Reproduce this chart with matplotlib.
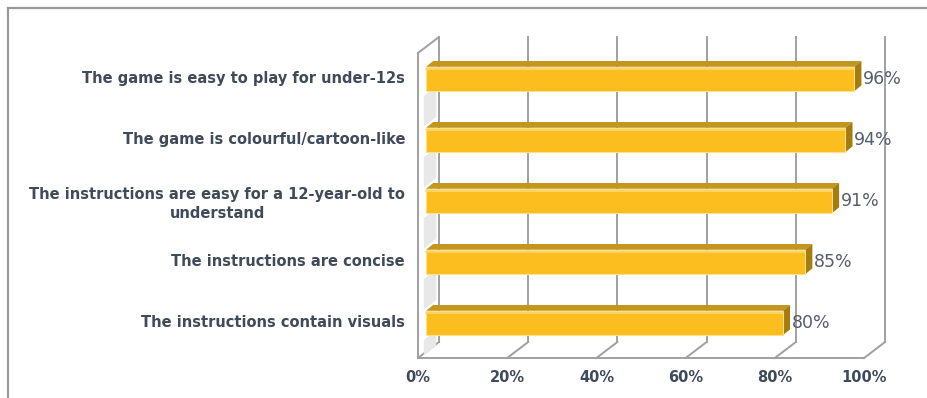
import matplotlib.pyplot as plt
from matplotlib.patches import Polygon
from matplotlib.lines import Line2D

categories = [
    "The game is easy to play for under-12s",
    "The game is colourful/cartoon-like",
    "The instructions are easy for a 12-year-old to\nunderstand",
    "The instructions are concise",
    "The instructions contain visuals",
]
values = [96, 94, 91, 85, 80]
ticks = [0, 20, 40, 60, 80, 100]

plt.rcParams['font.family'] = ['DejaVu Sans']

# pseudo-3d geometry (x in %, y in category units)
DX, DY = 4.7, -0.262          # depth of the whole box
BX, BDX, BDY = 1.8, 1.6, -0.095  # bar front offset and bar depth
HALF = 0.2
TOP, FLOOR = -0.426, 4.574

grid_c = '#a0a0a0'
txt_c = '#3f4a5a'

fig = plt.figure(figsize=(9.27, 3.98), dpi=100)
ax = fig.add_axes([0, 0, 1, 1])
ax.set_xlim(-93.7, 114.1)
ax.set_ylim(5.23, -1.295)
ax.axis('off')

# outer frame
fig.add_artist(Line2D([8/927, 8/927], [0, 1-8/398], transform=fig.transFigure, color='#9a9a9a', lw=1.6))
fig.add_artist(Line2D([8/927, 1], [1-8/398, 1-8/398], transform=fig.transFigure, color='#9a9a9a', lw=1.6))

# back wall gridlines and floor diagonals
for t in ticks:
    ax.plot([t + DX, t + DX], [TOP + DY, FLOOR + DY], color=grid_c, lw=1.4, zorder=1)
    ax.plot([t, t + DX], [FLOOR, FLOOR + DY], color=grid_c, lw=1.4, zorder=1)
ax.plot([0, 100], [FLOOR, FLOOR], color=grid_c, lw=1.4, zorder=1)

# left wall with faint shading between the bars
ax.plot([0, 0], [TOP, FLOOR], color=grid_c, lw=1.4, zorder=1)
ax.plot([0, DX], [TOP, TOP + DY], color=grid_c, lw=1.4, zorder=1)
for i in range(len(values)):
    ya, yb = i + HALF + 0.08, min(i + 0.78, FLOOR - 0.05)
    ax.add_patch(Polygon([(1.3, ya), (DX - 0.6, ya + DY * 0.6),
                          (DX - 0.6, yb + DY * 0.6), (1.3, yb)],
                         closed=True, facecolor='#e8e8e8', edgecolor='none', zorder=1))

# bars
for i, v in enumerate(values):
    x0, x1 = BX, BX + v
    y0, y1 = i - HALF, i + HALF
    top = [(x0, y0), (x1, y0), (x1 + BDX, y0 + BDY), (x0 + BDX, y0 + BDY)]
    side = [(x1, y0), (x1 + BDX, y0 + BDY), (x1 + BDX, y1 + BDY), (x1, y1)]
    ax.add_patch(Polygon(top, closed=True, facecolor='#c39620', edgecolor='none', zorder=3))
    ax.add_patch(Polygon(side, closed=True, facecolor='#a47c10', edgecolor='none', zorder=3))
    ax.barh(i, v, left=x0, height=2 * HALF, color='#fbbe1e', edgecolor='#fde08a', lw=0.8, zorder=4)
    ax.plot([x0, x1], [y0 + 0.03, y0 + 0.03], color='#fdd870', lw=1.2, zorder=5)
    ax.text(x1 + BDX + 0.3, i, f"{v}%", ha='left', va='center', fontsize=12.5,
            color='#555e6c', zorder=6)
    ax.text(-2.9, i + (0.05 if '\n' in categories[i] else 0), categories[i],
            ha='right', va='center', multialignment='center',
            fontsize=10.5, fontweight='bold', color=txt_c, linespacing=1.4)

for t in ticks:
    ax.text(t, 4.9, f"{t}%", ha='center', va='center', fontsize=10.5, fontweight='bold', color=txt_c)

fig.savefig('out.png', dpi=100)
